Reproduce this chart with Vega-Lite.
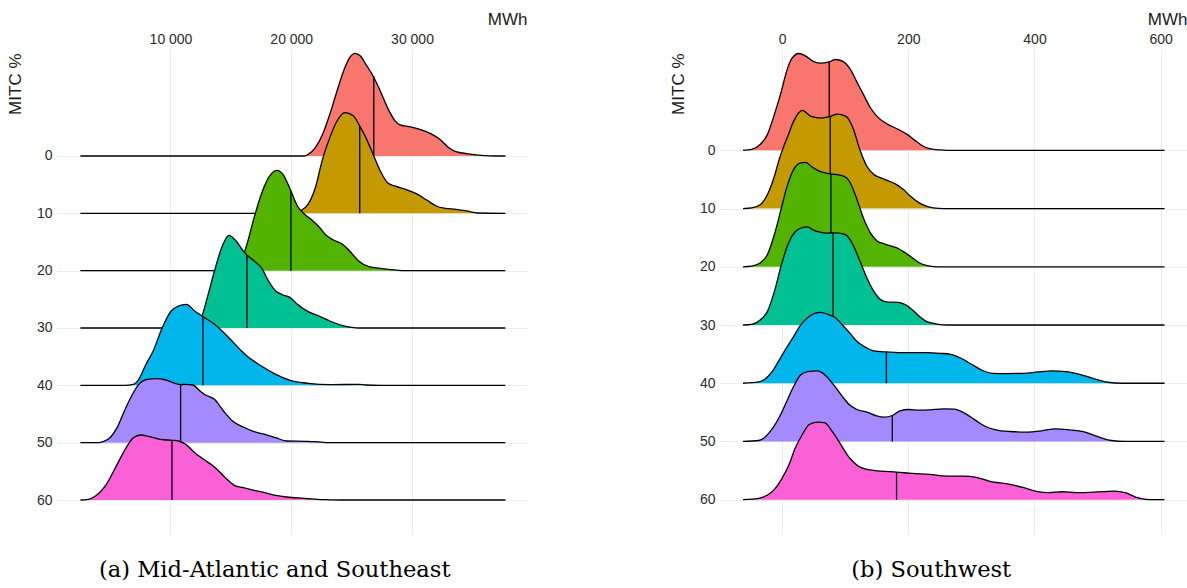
{
"$schema": "https://vega.github.io/schema/vega-lite/v6.json",
"padding": {"left": 6, "top": 10, "right": 0, "bottom": 0},
"bounds": "flush",
"spacing": 192,
"config": {
 "view": {"stroke": null},
 "font": "Liberation Sans",
 "axis": {"domain": false, "ticks": false, "grid": true, "gridColor": "#EBEBEB", "gridWidth": 1, "labelFont": "Liberation Sans", "labelFontSize": 14, "labelColor": "#2b2b2b", "titleFont": "Liberation Sans", "titleFontSize": 17, "titleFontWeight": "normal", "titleColor": "#1a1a1a"},
 "title": {"orient": "bottom", "anchor": "middle", "frame": "bounds", "font": "DejaVu Serif", "fontSize": 22.6, "fontWeight": "normal", "color": "#000000", "offset": 25}
},
"datasets": {
"a": [
{"mitc":0,"mwh":2538,"ridge":0},{"mitc":0,"mwh":21104,"ridge":0},{"mitc":0,"mwh":21403,"ridge":-0.29},{"mitc":0,"mwh":22000,"ridge":-1.45},{"mitc":0,"mwh":22597,"ridge":-3.78},{"mitc":0,"mwh":23194,"ridge":-7.27},{"mitc":0,"mwh":23791,"ridge":-11.34},{"mitc":0,"mwh":24388,"ridge":-15.12},{"mitc":0,"mwh":24836,"ridge":-17.15},{"mitc":0,"mwh":25283,"ridge":-17.91},{"mitc":0,"mwh":25731,"ridge":-17.44},{"mitc":0,"mwh":26179,"ridge":-15.99},{"mitc":0,"mwh":26776,"ridge":-13.95},{"mitc":0,"mwh":27373,"ridge":-11.34},{"mitc":0,"mwh":27970,"ridge":-8.43},{"mitc":0,"mwh":28567,"ridge":-6.22},{"mitc":0,"mwh":29015,"ridge":-5.41},{"mitc":0,"mwh":29761,"ridge":-5.12},{"mitc":0,"mwh":30656,"ridge":-4.65},{"mitc":0,"mwh":31552,"ridge":-3.9},{"mitc":0,"mwh":32298,"ridge":-2.91},{"mitc":0,"mwh":33044,"ridge":-1.45},{"mitc":0,"mwh":33641,"ridge":-0.76},{"mitc":0,"mwh":34537,"ridge":-0.41},{"mitc":0,"mwh":35731,"ridge":-0.12},{"mitc":0,"mwh":36925,"ridge":0},{"mitc":0,"mwh":37731,"ridge":0},
{"mitc":10,"mwh":2538,"ridge":10},{"mitc":10,"mwh":20209,"ridge":10},{"mitc":10,"mwh":20806,"ridge":9.5},{"mitc":10,"mwh":21403,"ridge":8.4},{"mitc":10,"mwh":22000,"ridge":5.5},{"mitc":10,"mwh":22597,"ridge":0.5},{"mitc":10,"mwh":23194,"ridge":-3.2},{"mitc":10,"mwh":23791,"ridge":-6.1},{"mitc":10,"mwh":24447,"ridge":-7.56},{"mitc":10,"mwh":25134,"ridge":-7.0},{"mitc":10,"mwh":25671,"ridge":-5.2},{"mitc":10,"mwh":26179,"ridge":-3.2},{"mitc":10,"mwh":26776,"ridge":-0.3},{"mitc":10,"mwh":27373,"ridge":2.6},{"mitc":10,"mwh":27970,"ridge":4.65},{"mitc":10,"mwh":28567,"ridge":5.23},{"mitc":10,"mwh":29462,"ridge":5.81},{"mitc":10,"mwh":30358,"ridge":6.57},{"mitc":10,"mwh":31253,"ridge":7.73},{"mitc":10,"mwh":31999,"ridge":8.72},{"mitc":10,"mwh":32746,"ridge":9.13},{"mitc":10,"mwh":33641,"ridge":9.3},{"mitc":10,"mwh":34537,"ridge":9.59},{"mitc":10,"mwh":35432,"ridge":9.94},{"mitc":10,"mwh":37731,"ridge":10},
{"mitc":20,"mwh":2538,"ridge":20},{"mitc":20,"mwh":14836,"ridge":20},{"mitc":20,"mwh":15134,"ridge":19.88},{"mitc":20,"mwh":15731,"ridge":18.9},{"mitc":20,"mwh":16328,"ridge":15.41},{"mitc":20,"mwh":16925,"ridge":10.76},{"mitc":20,"mwh":17522,"ridge":6.69},{"mitc":20,"mwh":18119,"ridge":3.78},{"mitc":20,"mwh":18806,"ridge":2.5},{"mitc":20,"mwh":19313,"ridge":3.2},{"mitc":20,"mwh":19910,"ridge":5.8},{"mitc":20,"mwh":20507,"ridge":8.72},{"mitc":20,"mwh":21104,"ridge":10.17},{"mitc":20,"mwh":21701,"ridge":11.16},{"mitc":20,"mwh":22298,"ridge":12.33},{"mitc":20,"mwh":22895,"ridge":13.84},{"mitc":20,"mwh":23492,"ridge":14.65},{"mitc":20,"mwh":24238,"ridge":15.41},{"mitc":20,"mwh":24835,"ridge":16.57},{"mitc":20,"mwh":25582,"ridge":18.31},{"mitc":20,"mwh":26477,"ridge":19.36},{"mitc":20,"mwh":27373,"ridge":19.59},{"mitc":20,"mwh":28567,"ridge":19.88},{"mitc":20,"mwh":29462,"ridge":20},{"mitc":20,"mwh":37731,"ridge":20},
{"mitc":30,"mwh":2538,"ridge":30},{"mitc":30,"mwh":11254,"ridge":30},{"mitc":30,"mwh":11851,"ridge":29.88},{"mitc":30,"mwh":12448,"ridge":28.78},{"mitc":30,"mwh":13045,"ridge":24.71},{"mitc":30,"mwh":13642,"ridge":20.06},{"mitc":30,"mwh":14239,"ridge":15.99},{"mitc":30,"mwh":14836,"ridge":13.84},{"mitc":30,"mwh":15433,"ridge":14.83},{"mitc":30,"mwh":16030,"ridge":16.57},{"mitc":30,"mwh":16328,"ridge":17.27},{"mitc":30,"mwh":16925,"ridge":18.31},{"mitc":30,"mwh":17522,"ridge":19.48},{"mitc":30,"mwh":18119,"ridge":21.8},{"mitc":30,"mwh":18716,"ridge":23.55},{"mitc":30,"mwh":19313,"ridge":24.24},{"mitc":30,"mwh":19910,"ridge":24.71},{"mitc":30,"mwh":20507,"ridge":25.87},{"mitc":30,"mwh":21403,"ridge":27.15},{"mitc":30,"mwh":22298,"ridge":27.91},{"mitc":30,"mwh":23194,"ridge":28.78},{"mitc":30,"mwh":24089,"ridge":29.48},{"mitc":30,"mwh":24985,"ridge":29.88},{"mitc":30,"mwh":25582,"ridge":30},{"mitc":30,"mwh":37731,"ridge":30},
{"mitc":40,"mwh":2538,"ridge":40},{"mitc":40,"mwh":6179,"ridge":40},{"mitc":40,"mwh":6925,"ridge":39.83},{"mitc":40,"mwh":7373,"ridge":38.95},{"mitc":40,"mwh":7970,"ridge":36.34},{"mitc":40,"mwh":8567,"ridge":34.0},{"mitc":40,"mwh":9313,"ridge":29.94},{"mitc":40,"mwh":10060,"ridge":27.03},{"mitc":40,"mwh":10657,"ridge":26.16},{"mitc":40,"mwh":11313,"ridge":25.87},{"mitc":40,"mwh":12000,"ridge":27.03},{"mitc":40,"mwh":12687,"ridge":28.02},{"mitc":40,"mwh":13642,"ridge":29.36},{"mitc":40,"mwh":14836,"ridge":31.69},{"mitc":40,"mwh":15880,"ridge":34.01},{"mitc":40,"mwh":16328,"ridge":34.88},{"mitc":40,"mwh":17522,"ridge":36.63},{"mitc":40,"mwh":18716,"ridge":38.08},{"mitc":40,"mwh":19910,"ridge":39.13},{"mitc":40,"mwh":21403,"ridge":39.65},{"mitc":40,"mwh":23194,"ridge":39.88},{"mitc":40,"mwh":25582,"ridge":39.83},{"mitc":40,"mwh":26179,"ridge":39.94},{"mitc":40,"mwh":27373,"ridge":40},{"mitc":40,"mwh":37731,"ridge":40},
{"mitc":50,"mwh":2538,"ridge":50},{"mitc":50,"mwh":4090,"ridge":50},{"mitc":50,"mwh":4388,"ridge":49.83},{"mitc":50,"mwh":4985,"ridge":49.13},{"mitc":50,"mwh":5582,"ridge":47.38},{"mitc":50,"mwh":6179,"ridge":44.48},{"mitc":50,"mwh":6776,"ridge":41.86},{"mitc":50,"mwh":7373,"ridge":39.83},{"mitc":50,"mwh":7970,"ridge":39.01},{"mitc":50,"mwh":8866,"ridge":38.84},{"mitc":50,"mwh":9612,"ridge":39.07},{"mitc":50,"mwh":10358,"ridge":39.65},{"mitc":50,"mwh":10836,"ridge":39.88},{"mitc":50,"mwh":11254,"ridge":39.83},{"mitc":50,"mwh":11851,"ridge":39.94},{"mitc":50,"mwh":12448,"ridge":40.99},{"mitc":50,"mwh":12896,"ridge":41.69},{"mitc":50,"mwh":13642,"ridge":42.44},{"mitc":50,"mwh":14388,"ridge":44.48},{"mitc":50,"mwh":15134,"ridge":46.22},{"mitc":50,"mwh":16030,"ridge":47.27},{"mitc":50,"mwh":16925,"ridge":48.08},{"mitc":50,"mwh":17821,"ridge":48.55},{"mitc":50,"mwh":18716,"ridge":49.13},{"mitc":50,"mwh":19612,"ridge":49.71},{"mitc":50,"mwh":21104,"ridge":49.77},{"mitc":50,"mwh":22000,"ridge":49.83},{"mitc":50,"mwh":23194,"ridge":50},{"mitc":50,"mwh":37731,"ridge":50},
{"mitc":60,"mwh":2538,"ridge":60},{"mitc":60,"mwh":3194,"ridge":59.88},{"mitc":60,"mwh":3791,"ridge":59.3},{"mitc":60,"mwh":4687,"ridge":57.27},{"mitc":60,"mwh":5582,"ridge":53.78},{"mitc":60,"mwh":6328,"ridge":50.87},{"mitc":60,"mwh":6925,"ridge":49.13},{"mitc":60,"mwh":7522,"ridge":48.66},{"mitc":60,"mwh":8269,"ridge":48.95},{"mitc":60,"mwh":9164,"ridge":49.42},{"mitc":60,"mwh":10119,"ridge":49.59},{"mitc":60,"mwh":10657,"ridge":49.71},{"mitc":60,"mwh":11254,"ridge":50.29},{"mitc":60,"mwh":12000,"ridge":51.74},{"mitc":60,"mwh":12746,"ridge":52.91},{"mitc":60,"mwh":13642,"ridge":54.24},{"mitc":60,"mwh":14537,"ridge":56.1},{"mitc":60,"mwh":15284,"ridge":57.44},{"mitc":60,"mwh":16030,"ridge":57.85},{"mitc":60,"mwh":16925,"ridge":58.31},{"mitc":60,"mwh":17821,"ridge":58.72},{"mitc":60,"mwh":18716,"ridge":59.19},{"mitc":60,"mwh":19612,"ridge":59.48},{"mitc":60,"mwh":21104,"ridge":59.71},{"mitc":60,"mwh":22597,"ridge":59.94},{"mitc":60,"mwh":24089,"ridge":60},{"mitc":60,"mwh":37731,"ridge":60}
],
"am": [
{"mitc":0,"mwh":26835,"ridge":-13.95},{"mitc":10,"mwh":25671,"ridge":-5.2},{"mitc":20,"mwh":19970,"ridge":6.0},{"mitc":30,"mwh":16328,"ridge":17.27},{"mitc":40,"mwh":12687,"ridge":28.02},{"mitc":50,"mwh":10836,"ridge":39.88},{"mitc":60,"mwh":10119,"ridge":49.59}
],
"b": [
{"mitc":0,"mwh":-61.9,"ridge":0},{"mitc":0,"mwh":-48.1,"ridge":-0.17},{"mitc":0,"mwh":-34.3,"ridge":-1.03},{"mitc":0,"mwh":-23.2,"ridge":-2.74},{"mitc":0,"mwh":-12.2,"ridge":-6.17},{"mitc":0,"mwh":-1.1,"ridge":-10.17},{"mitc":0,"mwh":7.2,"ridge":-13.6},{"mitc":0,"mwh":15.5,"ridge":-15.77},{"mitc":0,"mwh":26.5,"ridge":-16.63},{"mitc":0,"mwh":37.6,"ridge":-16.17},{"mitc":0,"mwh":48.7,"ridge":-15.31},{"mitc":0,"mwh":59.7,"ridge":-14.97},{"mitc":0,"mwh":74.7,"ridge":-15.2},{"mitc":0,"mwh":84.6,"ridge":-15.6},{"mitc":0,"mwh":95.7,"ridge":-15.31},{"mitc":0,"mwh":106.7,"ridge":-14.17},{"mitc":0,"mwh":117.8,"ridge":-11.89},{"mitc":0,"mwh":128.8,"ridge":-9.6},{"mitc":0,"mwh":139.9,"ridge":-7.31},{"mitc":0,"mwh":153.7,"ridge":-5.49},{"mitc":0,"mwh":167.6,"ridge":-4.46},{"mitc":0,"mwh":184.1,"ridge":-3.6},{"mitc":0,"mwh":198.0,"ridge":-2.74},{"mitc":0,"mwh":211.8,"ridge":-1.6},{"mitc":0,"mwh":222.9,"ridge":-0.74},{"mitc":0,"mwh":233.9,"ridge":-0.29},{"mitc":0,"mwh":250.5,"ridge":-0.06},{"mitc":0,"mwh":261.6,"ridge":0},{"mitc":0,"mwh":606.1,"ridge":0},
{"mitc":10,"mwh":-61.9,"ridge":10},{"mitc":10,"mwh":-48.1,"ridge":9.89},{"mitc":10,"mwh":-34.3,"ridge":9.31},{"mitc":10,"mwh":-23.2,"ridge":7.6},{"mitc":10,"mwh":-12.2,"ridge":4.46},{"mitc":10,"mwh":-3.9,"ridge":1.3},{"mitc":10,"mwh":1.7,"ridge":-0.4},{"mitc":10,"mwh":10.0,"ridge":-2.69},{"mitc":10,"mwh":18.2,"ridge":-4.97},{"mitc":10,"mwh":32.1,"ridge":-6.86},{"mitc":10,"mwh":45.9,"ridge":-5.83},{"mitc":10,"mwh":62.5,"ridge":-5.54},{"mitc":10,"mwh":76.3,"ridge":-5.83},{"mitc":10,"mwh":87.4,"ridge":-6.23},{"mitc":10,"mwh":101.2,"ridge":-5.83},{"mitc":10,"mwh":112.3,"ridge":-3.83},{"mitc":10,"mwh":123.3,"ridge":-0.1},{"mitc":10,"mwh":134.4,"ridge":2.74},{"mitc":10,"mwh":145.4,"ridge":4.17},{"mitc":10,"mwh":156.5,"ridge":4.74},{"mitc":10,"mwh":167.6,"ridge":5.2},{"mitc":10,"mwh":181.4,"ridge":5.89},{"mitc":10,"mwh":192.4,"ridge":6.74},{"mitc":10,"mwh":203.5,"ridge":7.89},{"mitc":10,"mwh":217.3,"ridge":9.03},{"mitc":10,"mwh":228.4,"ridge":9.6},{"mitc":10,"mwh":239.4,"ridge":9.89},{"mitc":10,"mwh":256.0,"ridge":10},{"mitc":10,"mwh":606.1,"ridge":10},
{"mitc":20,"mwh":-61.9,"ridge":20},{"mitc":20,"mwh":-48.1,"ridge":19.89},{"mitc":20,"mwh":-34.3,"ridge":19.31},{"mitc":20,"mwh":-23.2,"ridge":17.89},{"mitc":20,"mwh":-12.2,"ridge":14.46},{"mitc":20,"mwh":-1.1,"ridge":9.89},{"mitc":20,"mwh":7.2,"ridge":6.46},{"mitc":20,"mwh":18.2,"ridge":3.31},{"mitc":20,"mwh":29.3,"ridge":2.17},{"mitc":20,"mwh":37.6,"ridge":2.06},{"mitc":20,"mwh":45.9,"ridge":2.74},{"mitc":20,"mwh":57.0,"ridge":3.49},{"mitc":20,"mwh":68.0,"ridge":3.89},{"mitc":20,"mwh":77.4,"ridge":4.06},{"mitc":20,"mwh":87.4,"ridge":4.17},{"mitc":20,"mwh":98.4,"ridge":4.46},{"mitc":20,"mwh":106.7,"ridge":5.31},{"mitc":20,"mwh":117.8,"ridge":8.17},{"mitc":20,"mwh":128.8,"ridge":11.6},{"mitc":20,"mwh":139.9,"ridge":14.17},{"mitc":20,"mwh":151.0,"ridge":15.6},{"mitc":20,"mwh":162.0,"ridge":16.06},{"mitc":20,"mwh":173.1,"ridge":16.46},{"mitc":20,"mwh":184.1,"ridge":16.86},{"mitc":20,"mwh":195.2,"ridge":17.6},{"mitc":20,"mwh":206.3,"ridge":18.46},{"mitc":20,"mwh":217.3,"ridge":19.31},{"mitc":20,"mwh":228.4,"ridge":19.77},{"mitc":20,"mwh":245.0,"ridge":20},{"mitc":20,"mwh":606.1,"ridge":20},
{"mitc":30,"mwh":-61.9,"ridge":30},{"mitc":30,"mwh":-48.1,"ridge":29.89},{"mitc":30,"mwh":-34.3,"ridge":29.09},{"mitc":30,"mwh":-23.2,"ridge":27.66},{"mitc":30,"mwh":-12.2,"ridge":24.23},{"mitc":30,"mwh":-1.1,"ridge":19.66},{"mitc":30,"mwh":10.0,"ridge":15.94},{"mitc":30,"mwh":21.0,"ridge":13.94},{"mitc":30,"mwh":32.1,"ridge":13.26},{"mitc":30,"mwh":40.4,"ridge":13.14},{"mitc":30,"mwh":48.7,"ridge":13.66},{"mitc":30,"mwh":59.7,"ridge":14.06},{"mitc":30,"mwh":70.8,"ridge":14.23},{"mitc":30,"mwh":80.7,"ridge":14.17},{"mitc":30,"mwh":90.1,"ridge":14.23},{"mitc":30,"mwh":101.2,"ridge":14.51},{"mitc":30,"mwh":112.3,"ridge":16.23},{"mitc":30,"mwh":123.3,"ridge":19.0},{"mitc":30,"mwh":134.4,"ridge":21.94},{"mitc":30,"mwh":145.4,"ridge":24.23},{"mitc":30,"mwh":156.5,"ridge":25.66},{"mitc":30,"mwh":167.6,"ridge":26.06},{"mitc":30,"mwh":184.1,"ridge":26.11},{"mitc":30,"mwh":195.2,"ridge":26.51},{"mitc":30,"mwh":206.3,"ridge":27.37},{"mitc":30,"mwh":217.3,"ridge":28.51},{"mitc":30,"mwh":228.4,"ridge":29.37},{"mitc":30,"mwh":245.0,"ridge":29.83},{"mitc":30,"mwh":261.6,"ridge":30},{"mitc":30,"mwh":606.1,"ridge":30},
{"mitc":40,"mwh":-61.9,"ridge":40},{"mitc":40,"mwh":-37.1,"ridge":39.77},{"mitc":40,"mwh":-26.0,"ridge":39.2},{"mitc":40,"mwh":-14.9,"ridge":37.89},{"mitc":40,"mwh":-3.9,"ridge":35.89},{"mitc":40,"mwh":7.2,"ridge":33.89},{"mitc":40,"mwh":18.2,"ridge":32.0},{"mitc":40,"mwh":29.3,"ridge":30.0},{"mitc":40,"mwh":40.4,"ridge":28.74},{"mitc":40,"mwh":51.4,"ridge":28.0},{"mitc":40,"mwh":61.4,"ridge":27.83},{"mitc":40,"mwh":73.5,"ridge":28.2},{"mitc":40,"mwh":84.6,"ridge":28.74},{"mitc":40,"mwh":95.7,"ridge":30.0},{"mitc":40,"mwh":106.7,"ridge":31.31},{"mitc":40,"mwh":117.8,"ridge":32.74},{"mitc":40,"mwh":128.8,"ridge":33.6},{"mitc":40,"mwh":145.4,"ridge":34.46},{"mitc":40,"mwh":165.3,"ridge":34.63},{"mitc":40,"mwh":184.1,"ridge":34.74},{"mitc":40,"mwh":206.3,"ridge":34.74},{"mitc":40,"mwh":228.4,"ridge":34.74},{"mitc":40,"mwh":250.5,"ridge":34.86},{"mitc":40,"mwh":267.1,"ridge":35.03},{"mitc":40,"mwh":283.7,"ridge":35.71},{"mitc":40,"mwh":300.3,"ridge":36.74},{"mitc":40,"mwh":316.9,"ridge":37.77},{"mitc":40,"mwh":333.5,"ridge":38.29},{"mitc":40,"mwh":355.6,"ridge":38.34},{"mitc":40,"mwh":383.2,"ridge":38.29},{"mitc":40,"mwh":405.3,"ridge":38.06},{"mitc":40,"mwh":427.5,"ridge":37.89},{"mitc":40,"mwh":449.6,"ridge":38.0},{"mitc":40,"mwh":471.7,"ridge":38.46},{"mitc":40,"mwh":493.8,"ridge":39.2},{"mitc":40,"mwh":515.9,"ridge":39.83},{"mitc":40,"mwh":538.1,"ridge":40},{"mitc":40,"mwh":606.1,"ridge":40},
{"mitc":50,"mwh":-61.9,"ridge":50},{"mitc":50,"mwh":-37.1,"ridge":49.83},{"mitc":50,"mwh":-26.0,"ridge":49.14},{"mitc":50,"mwh":-14.9,"ridge":47.71},{"mitc":50,"mwh":-3.9,"ridge":45.71},{"mitc":50,"mwh":7.2,"ridge":43.14},{"mitc":50,"mwh":18.2,"ridge":40.57},{"mitc":50,"mwh":29.3,"ridge":38.57},{"mitc":50,"mwh":40.4,"ridge":38.0},{"mitc":50,"mwh":55.9,"ridge":37.89},{"mitc":50,"mwh":68.0,"ridge":38.57},{"mitc":50,"mwh":81.8,"ridge":40.29},{"mitc":50,"mwh":95.7,"ridge":42.29},{"mitc":50,"mwh":106.7,"ridge":43.71},{"mitc":50,"mwh":117.8,"ridge":44.46},{"mitc":50,"mwh":134.4,"ridge":44.97},{"mitc":50,"mwh":148.2,"ridge":45.54},{"mitc":50,"mwh":162.0,"ridge":45.83},{"mitc":50,"mwh":174.7,"ridge":45.54},{"mitc":50,"mwh":186.9,"ridge":44.74},{"mitc":50,"mwh":200.7,"ridge":44.51},{"mitc":50,"mwh":217.3,"ridge":44.63},{"mitc":50,"mwh":233.9,"ridge":44.57},{"mitc":50,"mwh":256.0,"ridge":44.4},{"mitc":50,"mwh":272.6,"ridge":44.46},{"mitc":50,"mwh":289.2,"ridge":45.14},{"mitc":50,"mwh":305.8,"ridge":46.29},{"mitc":50,"mwh":322.4,"ridge":47.43},{"mitc":50,"mwh":339.0,"ridge":48.0},{"mitc":50,"mwh":361.1,"ridge":48.29},{"mitc":50,"mwh":388.8,"ridge":48.4},{"mitc":50,"mwh":410.9,"ridge":48.17},{"mitc":50,"mwh":433.0,"ridge":47.83},{"mitc":50,"mwh":455.1,"ridge":48.0},{"mitc":50,"mwh":477.2,"ridge":48.29},{"mitc":50,"mwh":499.4,"ridge":49.14},{"mitc":50,"mwh":521.5,"ridge":49.83},{"mitc":50,"mwh":543.6,"ridge":50},{"mitc":50,"mwh":606.1,"ridge":50},
{"mitc":60,"mwh":-61.9,"ridge":60},{"mitc":60,"mwh":-37.1,"ridge":59.77},{"mitc":60,"mwh":-23.2,"ridge":59.2},{"mitc":60,"mwh":-12.2,"ridge":58.23},{"mitc":60,"mwh":-1.1,"ridge":56.51},{"mitc":60,"mwh":10.0,"ridge":54.23},{"mitc":60,"mwh":21.0,"ridge":51.09},{"mitc":60,"mwh":32.1,"ridge":48.8},{"mitc":60,"mwh":43.1,"ridge":47.09},{"mitc":60,"mwh":57.0,"ridge":46.69},{"mitc":60,"mwh":68.0,"ridge":46.8},{"mitc":60,"mwh":79.1,"ridge":48.23},{"mitc":60,"mwh":92.9,"ridge":50.51},{"mitc":60,"mwh":106.7,"ridge":52.8},{"mitc":60,"mwh":120.6,"ridge":54.23},{"mitc":60,"mwh":134.4,"ridge":54.8},{"mitc":60,"mwh":156.5,"ridge":55.09},{"mitc":60,"mwh":181.4,"ridge":55.26},{"mitc":60,"mwh":206.3,"ridge":55.49},{"mitc":60,"mwh":233.9,"ridge":55.66},{"mitc":60,"mwh":261.6,"ridge":55.94},{"mitc":60,"mwh":289.2,"ridge":55.94},{"mitc":60,"mwh":305.8,"ridge":56.11},{"mitc":60,"mwh":327.9,"ridge":56.8},{"mitc":60,"mwh":361.1,"ridge":57.37},{"mitc":60,"mwh":383.2,"ridge":57.94},{"mitc":60,"mwh":405.3,"ridge":58.63},{"mitc":60,"mwh":421.9,"ridge":58.8},{"mitc":60,"mwh":444.1,"ridge":58.63},{"mitc":60,"mwh":466.2,"ridge":58.8},{"mitc":60,"mwh":488.3,"ridge":58.74},{"mitc":60,"mwh":510.4,"ridge":58.63},{"mitc":60,"mwh":527.0,"ridge":58.51},{"mitc":60,"mwh":543.6,"ridge":58.8},{"mitc":60,"mwh":560.2,"ridge":59.54},{"mitc":60,"mwh":576.8,"ridge":59.94},{"mitc":60,"mwh":587.8,"ridge":60},{"mitc":60,"mwh":606.1,"ridge":60}
],
"bm": [
{"mitc":0,"mwh":74.7,"ridge":-15.2},{"mitc":10,"mwh":76.3,"ridge":-5.83},{"mitc":20,"mwh":77.4,"ridge":4.06},{"mitc":30,"mwh":80.7,"ridge":14.17},{"mitc":40,"mwh":165.3,"ridge":34.63},{"mitc":50,"mwh":174.7,"ridge":45.54},{"mitc":60,"mwh":181.4,"ridge":55.26}
]
},
"hconcat": [
{
 "width": 471, "height": 485,
 "title": {"text": "(a) Mid-Atlantic and Southeast", "dx": 8},
 "encoding": {
  "x": {"field": "mwh", "type": "quantitative", "scale": {"domain": [518, 39524], "nice": false, "zero": false}, "axis": {"orient": "top", "values": [10000, 20000, 30000], "labelExpr": "replace(format(datum.value, ','), ',', ' ')", "title": "MWh", "titleAnchor": "end", "labelPadding": 3, "titlePadding": 4}},
  "y": {"field": "ridge", "type": "quantitative", "scale": {"domain": [-18.66, 65.93], "reverse": true, "nice": false, "zero": false}, "axis": {"values": [0, 10, 20, 30, 40, 50, 60], "title": "MITC %", "titleY": 4, "titleAlign": "right", "labelPadding": 4, "titlePadding": 12}}
 },
 "layer": [
  {"data": {"name": "a"}, "transform": [{"filter": "datum.mitc == 0"}], "mark": {"type": "area", "color": "#F8766D", "opacity": 1, "interpolate": "monotone"}, "encoding": {"y2": {"field": "mitc"}}},
  {"data": {"name": "a"}, "transform": [{"filter": "datum.mitc == 0"}], "mark": {"type": "line", "color": "black", "strokeWidth": 1.3, "interpolate": "monotone"}, "encoding": {}},
  {"data": {"name": "am"}, "transform": [{"filter": "datum.mitc == 0"}], "mark": {"type": "rule", "color": "black", "strokeWidth": 1.3}, "encoding": {"y2": {"field": "mitc"}}},
  {"data": {"name": "a"}, "transform": [{"filter": "datum.mitc == 10"}], "mark": {"type": "area", "color": "#C49A00", "opacity": 1, "interpolate": "monotone"}, "encoding": {"y2": {"field": "mitc"}}},
  {"data": {"name": "a"}, "transform": [{"filter": "datum.mitc == 10"}], "mark": {"type": "line", "color": "black", "strokeWidth": 1.3, "interpolate": "monotone"}, "encoding": {}},
  {"data": {"name": "am"}, "transform": [{"filter": "datum.mitc == 10"}], "mark": {"type": "rule", "color": "black", "strokeWidth": 1.3}, "encoding": {"y2": {"field": "mitc"}}},
  {"data": {"name": "a"}, "transform": [{"filter": "datum.mitc == 20"}], "mark": {"type": "area", "color": "#53B400", "opacity": 1, "interpolate": "monotone"}, "encoding": {"y2": {"field": "mitc"}}},
  {"data": {"name": "a"}, "transform": [{"filter": "datum.mitc == 20"}], "mark": {"type": "line", "color": "black", "strokeWidth": 1.3, "interpolate": "monotone"}, "encoding": {}},
  {"data": {"name": "am"}, "transform": [{"filter": "datum.mitc == 20"}], "mark": {"type": "rule", "color": "black", "strokeWidth": 1.3}, "encoding": {"y2": {"field": "mitc"}}},
  {"data": {"name": "a"}, "transform": [{"filter": "datum.mitc == 30"}], "mark": {"type": "area", "color": "#00C094", "opacity": 1, "interpolate": "monotone"}, "encoding": {"y2": {"field": "mitc"}}},
  {"data": {"name": "a"}, "transform": [{"filter": "datum.mitc == 30"}], "mark": {"type": "line", "color": "black", "strokeWidth": 1.3, "interpolate": "monotone"}, "encoding": {}},
  {"data": {"name": "am"}, "transform": [{"filter": "datum.mitc == 30"}], "mark": {"type": "rule", "color": "black", "strokeWidth": 1.3}, "encoding": {"y2": {"field": "mitc"}}},
  {"data": {"name": "a"}, "transform": [{"filter": "datum.mitc == 40"}], "mark": {"type": "area", "color": "#00B6EB", "opacity": 1, "interpolate": "monotone"}, "encoding": {"y2": {"field": "mitc"}}},
  {"data": {"name": "a"}, "transform": [{"filter": "datum.mitc == 40"}], "mark": {"type": "line", "color": "black", "strokeWidth": 1.3, "interpolate": "monotone"}, "encoding": {}},
  {"data": {"name": "am"}, "transform": [{"filter": "datum.mitc == 40"}], "mark": {"type": "rule", "color": "black", "strokeWidth": 1.3}, "encoding": {"y2": {"field": "mitc"}}},
  {"data": {"name": "a"}, "transform": [{"filter": "datum.mitc == 50"}], "mark": {"type": "area", "color": "#A58AFF", "opacity": 1, "interpolate": "monotone"}, "encoding": {"y2": {"field": "mitc"}}},
  {"data": {"name": "a"}, "transform": [{"filter": "datum.mitc == 50"}], "mark": {"type": "line", "color": "black", "strokeWidth": 1.3, "interpolate": "monotone"}, "encoding": {}},
  {"data": {"name": "am"}, "transform": [{"filter": "datum.mitc == 50"}], "mark": {"type": "rule", "color": "black", "strokeWidth": 1.3}, "encoding": {"y2": {"field": "mitc"}}},
  {"data": {"name": "a"}, "transform": [{"filter": "datum.mitc == 60"}], "mark": {"type": "area", "color": "#FB61D7", "opacity": 1, "interpolate": "monotone"}, "encoding": {"y2": {"field": "mitc"}}},
  {"data": {"name": "a"}, "transform": [{"filter": "datum.mitc == 60"}], "mark": {"type": "line", "color": "black", "strokeWidth": 1.3, "interpolate": "monotone"}, "encoding": {}},
  {"data": {"name": "am"}, "transform": [{"filter": "datum.mitc == 60"}], "mark": {"type": "rule", "color": "black", "strokeWidth": 1.3}, "encoding": {"y2": {"field": "mitc"}}}
 ]
},
{
 "width": 468, "height": 485,
 "title": {"text": "(b) Southwest", "dx": 3},
 "encoding": {
  "x": {"field": "mwh", "type": "quantitative", "scale": {"domain": [-100, 641.7], "nice": false, "zero": false}, "axis": {"orient": "top", "values": [0, 200, 400, 600], "title": "MWh", "titleAnchor": "end", "labelPadding": 3, "titlePadding": 4}},
  "y": {"field": "ridge", "type": "quantitative", "scale": {"domain": [-17.4, 65.89], "reverse": true, "nice": false, "zero": false}, "axis": {"values": [0, 10, 20, 30, 40, 50, 60], "title": "MITC %", "titleY": 4, "titleAlign": "right", "labelPadding": 4, "titlePadding": 12}}
 },
 "layer": [
  {"data": {"name": "b"}, "transform": [{"filter": "datum.mitc == 0"}], "mark": {"type": "area", "color": "#F8766D", "opacity": 1, "interpolate": "monotone"}, "encoding": {"y2": {"field": "mitc"}}},
  {"data": {"name": "b"}, "transform": [{"filter": "datum.mitc == 0"}], "mark": {"type": "line", "color": "black", "strokeWidth": 1.3, "interpolate": "monotone"}, "encoding": {}},
  {"data": {"name": "bm"}, "transform": [{"filter": "datum.mitc == 0"}], "mark": {"type": "rule", "color": "black", "strokeWidth": 1.3}, "encoding": {"y2": {"field": "mitc"}}},
  {"data": {"name": "b"}, "transform": [{"filter": "datum.mitc == 10"}], "mark": {"type": "area", "color": "#C49A00", "opacity": 1, "interpolate": "monotone"}, "encoding": {"y2": {"field": "mitc"}}},
  {"data": {"name": "b"}, "transform": [{"filter": "datum.mitc == 10"}], "mark": {"type": "line", "color": "black", "strokeWidth": 1.3, "interpolate": "monotone"}, "encoding": {}},
  {"data": {"name": "bm"}, "transform": [{"filter": "datum.mitc == 10"}], "mark": {"type": "rule", "color": "black", "strokeWidth": 1.3}, "encoding": {"y2": {"field": "mitc"}}},
  {"data": {"name": "b"}, "transform": [{"filter": "datum.mitc == 20"}], "mark": {"type": "area", "color": "#53B400", "opacity": 1, "interpolate": "monotone"}, "encoding": {"y2": {"field": "mitc"}}},
  {"data": {"name": "b"}, "transform": [{"filter": "datum.mitc == 20"}], "mark": {"type": "line", "color": "black", "strokeWidth": 1.3, "interpolate": "monotone"}, "encoding": {}},
  {"data": {"name": "bm"}, "transform": [{"filter": "datum.mitc == 20"}], "mark": {"type": "rule", "color": "black", "strokeWidth": 1.3}, "encoding": {"y2": {"field": "mitc"}}},
  {"data": {"name": "b"}, "transform": [{"filter": "datum.mitc == 30"}], "mark": {"type": "area", "color": "#00C094", "opacity": 1, "interpolate": "monotone"}, "encoding": {"y2": {"field": "mitc"}}},
  {"data": {"name": "b"}, "transform": [{"filter": "datum.mitc == 30"}], "mark": {"type": "line", "color": "black", "strokeWidth": 1.3, "interpolate": "monotone"}, "encoding": {}},
  {"data": {"name": "bm"}, "transform": [{"filter": "datum.mitc == 30"}], "mark": {"type": "rule", "color": "black", "strokeWidth": 1.3}, "encoding": {"y2": {"field": "mitc"}}},
  {"data": {"name": "b"}, "transform": [{"filter": "datum.mitc == 40"}], "mark": {"type": "area", "color": "#00B6EB", "opacity": 1, "interpolate": "monotone"}, "encoding": {"y2": {"field": "mitc"}}},
  {"data": {"name": "b"}, "transform": [{"filter": "datum.mitc == 40"}], "mark": {"type": "line", "color": "black", "strokeWidth": 1.3, "interpolate": "monotone"}, "encoding": {}},
  {"data": {"name": "bm"}, "transform": [{"filter": "datum.mitc == 40"}], "mark": {"type": "rule", "color": "black", "strokeWidth": 1.3}, "encoding": {"y2": {"field": "mitc"}}},
  {"data": {"name": "b"}, "transform": [{"filter": "datum.mitc == 50"}], "mark": {"type": "area", "color": "#A58AFF", "opacity": 1, "interpolate": "monotone"}, "encoding": {"y2": {"field": "mitc"}}},
  {"data": {"name": "b"}, "transform": [{"filter": "datum.mitc == 50"}], "mark": {"type": "line", "color": "black", "strokeWidth": 1.3, "interpolate": "monotone"}, "encoding": {}},
  {"data": {"name": "bm"}, "transform": [{"filter": "datum.mitc == 50"}], "mark": {"type": "rule", "color": "black", "strokeWidth": 1.3}, "encoding": {"y2": {"field": "mitc"}}},
  {"data": {"name": "b"}, "transform": [{"filter": "datum.mitc == 60"}], "mark": {"type": "area", "color": "#FB61D7", "opacity": 1, "interpolate": "monotone"}, "encoding": {"y2": {"field": "mitc"}}},
  {"data": {"name": "b"}, "transform": [{"filter": "datum.mitc == 60"}], "mark": {"type": "line", "color": "black", "strokeWidth": 1.3, "interpolate": "monotone"}, "encoding": {}},
  {"data": {"name": "bm"}, "transform": [{"filter": "datum.mitc == 60"}], "mark": {"type": "rule", "color": "black", "strokeWidth": 1.3}, "encoding": {"y2": {"field": "mitc"}}}
 ]
}
]
}
